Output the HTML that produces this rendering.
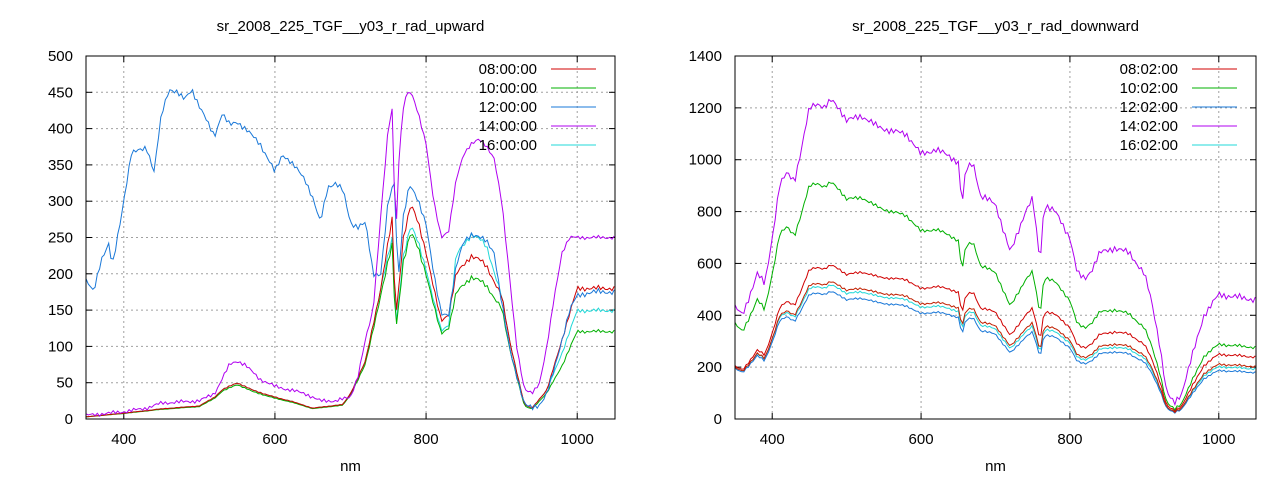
<!DOCTYPE html>
<html><head><meta charset="utf-8"><style>
body{margin:0;background:#fff;}
svg{display:block;font-family:"Liberation Sans",sans-serif;font-size:15px;}
</style></head><body>
<svg id="s" width="1280" height="480" xmlns="http://www.w3.org/2000/svg"></svg>
<script>
const S=document.getElementById('s');let h='';
function interp(pts,x){for(let i=0;i<pts.length-1;i++){if(x>=pts[i][0]&&x<=pts[i+1][0]){const t=(x-pts[i][0])/(pts[i+1][0]-pts[i][0]);return pts[i][1]+t*(pts[i+1][1]-pts[i][1]);}}return pts[pts.length-1][1];}
function P(a){const r=[];for(let i=0;i<a.length;i+=2)r.push([a[i],a[i+1]]);return r;}
function noise(x,s){return Math.sin(x*0.9)*s+Math.sin(x*2.3)*s*0.5;}
function plot(o){
 const X=v=>o.x0+(v-350)/700*(o.x1-o.x0),Y=v=>419-v/o.ymax*363;
 for(const t of [400,600,800,1000]){h+=`<line x1="${X(t)}" y1="56" x2="${X(t)}" y2="419" stroke="#a0a0a0" stroke-dasharray="2,3"/>`;
  h+=`<line x1="${X(t)}" y1="419" x2="${X(t)}" y2="413" stroke="#000"/><line x1="${X(t)}" y1="56" x2="${X(t)}" y2="62" stroke="#000"/>`;
  h+=`<text x="${X(t)}" y="444" text-anchor="middle">${t}</text>`;}
 for(let v=0;v<=o.ymax;v+=o.ystep){const y=Y(v);
  if(v>0&&v<o.ymax)h+=`<line x1="${o.x0}" y1="${y}" x2="${o.x1}" y2="${y}" stroke="#a0a0a0" stroke-dasharray="2,3"/>`;
  h+=`<line x1="${o.x0}" y1="${y}" x2="${o.x0+6}" y2="${y}" stroke="#000"/><line x1="${o.x1}" y1="${y}" x2="${o.x1-6}" y2="${y}" stroke="#000"/>`;
  h+=`<text x="${o.x0-13}" y="${y+5}" text-anchor="end">${v}</text>`;}
 for(const s of o.series){let d='';for(let n=350;n<=1050;n+=3){let v=s.f(n);d+=(n==350?'M':'L')+X(n).toFixed(1)+','+Y(Math.max(0,Math.min(o.ymax,v))).toFixed(1);}
  h+=`<path d="${d}" fill="none" stroke="${s.c}" stroke-width="1"/>`;}
 h+=`<rect x="${o.x0}" y="56" width="${o.x1-o.x0}" height="363" fill="none" stroke="#000"/>`;
 h+=`<text x="${(o.x0+o.x1)/2}" y="31" text-anchor="middle">${o.title}</text>`;
 h+=`<text x="${(o.x0+o.x1)/2}" y="471" text-anchor="middle">nm</text>`;
 o.leg.forEach((l,i)=>{const y=69+i*19;h+=`<text x="${o.x1-78}" y="${y+5}" text-anchor="end">${l[0]}</text><line x1="${o.x1-64}" y1="${y}" x2="${o.x1-19}" y2="${y}" stroke="${l[1]}"/>`;});
}
const C=['#d00000','#00b000','#1a78d8','#b000f0','#20d8d8'];
const B=P([350,190,360,175,370,220,380,240,385,210,395,270,410,365,420,370,430,375,440,340,450,420,460,455,470,450,480,440,490,455,500,430,510,410,520,390,530,420,540,405,550,410,560,400,580,380,600,340,610,365,620,355,640,330,650,305,660,270,670,320,680,325,690,315,700,270,710,265,720,270,730,200,740,200,750,300,758,325,763,190,770,280,778,322,790,300,800,270,810,200,820,145,830,145,840,210,850,245,860,255,870,250,880,245,890,230,900,160,910,100,920,60,930,20,940,15,950,20,960,35,970,70,980,110,990,150,1000,170,1020,175,1050,175]);
const Pu=P([350,5,400,10,430,15,450,22,500,25,520,35,540,75,550,80,560,75,580,55,600,45,620,40,640,35,660,25,680,25,700,30,710,60,720,110,730,150,740,280,750,400,755,425,760,250,765,380,772,445,780,450,790,420,800,380,810,300,820,250,830,260,840,330,850,365,860,380,870,385,880,375,890,360,900,300,910,200,920,100,930,40,940,35,950,50,960,100,970,170,980,230,990,250,1050,250]);
const R=P([350,3,400,8,450,14,500,18,520,30,530,40,550,50,570,40,600,30,620,25,650,15,690,20,700,35,720,80,740,180,755,275,760,140,770,250,780,295,790,270,800,230,810,180,820,135,830,145,840,200,860,225,870,220,880,210,900,170,910,110,930,20,940,15,960,40,980,110,1000,180,1050,180]);
const G=R.map(p=>[p[0],p[0]>740?p[1]*(p[0]<900?0.87:(p[0]>960?0.67:0.9)):p[1]*0.95]);
const Cy=R.map(p=>[p[0],p[0]>740?p[1]*(p[0]<900?(p[0]>830?1.13:0.9):(p[0]>960?0.83:1)):p[1]]);
const sn=(f,k)=>n=>{const v=f(n);return v+noise(n,Math.min(3,v*0.015)*k);};
plot({x0:86,x1:615,ymax:500,ystep:50,title:'sr_2008_225_TGF__y03_r_rad_upward',
 leg:[['08:00:00',C[0]],['10:00:00',C[1]],['12:00:00',C[2]],['14:00:00',C[3]],['16:00:00',C[4]]],
 series:[{c:C[4],f:sn(n=>interp(Cy,n),1)},{c:C[1],f:sn(n=>interp(G,n),1)},{c:C[0],f:sn(n=>interp(R,n),1)},{c:C[2],f:n=>interp(B,n)+noise(n,3)},{c:C[3],f:n=>interp(Pu,n)+noise(n,2)}]});
const D=P([350,430,360,400,370,480,380,560,390,520,400,700,410,900,420,950,430,920,440,1050,450,1200,460,1220,470,1200,480,1230,490,1200,500,1150,520,1170,540,1130,560,1110,580,1100,600,1020,620,1040,640,1010,650,990,655,820,660,960,670,990,680,860,700,830,720,640,740,800,750,850,760,600,765,820,770,820,780,800,790,750,800,700,810,560,820,540,830,580,840,640,860,660,880,640,900,560,910,450,920,300,930,100,940,60,950,100,960,200,980,400,1000,480,1050,460]);
const fac=(a,b,c)=>n=>{const k=n<450?a+(b-a)*(n-350)/100:b+(c-b)*Math.min(1,(n-450)/550);return interp(D,n)*k+noise(n,8)*k;};
plot({x0:735,x1:1256,ymax:1400,ystep:200,title:'sr_2008_225_TGF__y03_r_rad_downward',
 leg:[['08:02:00',C[0]],['10:02:00',C[1]],['12:02:00',C[2]],['14:02:00',C[3]],['16:02:00',C[4]]],
 series:[{c:C[4],f:fac(0.46,0.42,0.42)},{c:C[2],f:fac(0.45,0.4,0.39)},{c:'#c02000',f:fac(0.46,0.43,0.44)},{c:C[0],f:fac(0.47,0.48,0.52)},{c:C[1],f:fac(0.85,0.75,0.6)},{c:C[3],f:n=>interp(D,n)+noise(n,10)}]});
S.innerHTML=h;
</script>
</body></html>
